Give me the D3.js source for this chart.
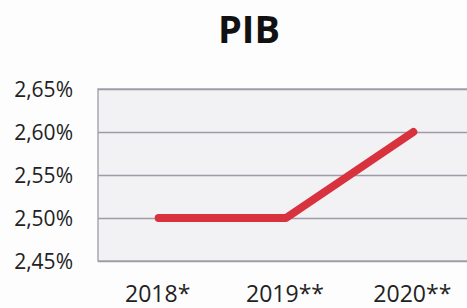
<!DOCTYPE html>
<html><head><meta charset="utf-8">
<script src="https://cdn.jsdelivr.net/npm/d3@7"></script>
<style>body{margin:0;background:#fdfdfd;}svg{display:block;}</style>
</head><body>
<script>
const categories = ["2018*", "2019**", "2020**"];
const values = [2.50, 2.50, 2.60];
const yTicks = [2.45, 2.50, 2.55, 2.60, 2.65];
const title = "PIB";

const W = 467, H = 308;
const svg = d3.select("body").append("svg").attr("width", W).attr("height", H);
svg.append("rect").attr("width", W).attr("height", H).attr("fill", "#fdfdfd");

const m = {left: 98, right: -13, top: 89, bottom: 47};
const x = d3.scaleBand().domain(categories).range([m.left, W - m.right]).padding(0);
const y = d3.scaleLinear().domain([2.45, 2.65]).range([H - m.bottom, m.top]);

svg.append("rect").attr("x", m.left).attr("y", m.top)
  .attr("width", W - m.right - m.left).attr("height", H - m.bottom - m.top)
  .attr("fill", "#f2f1f3").attr("stroke", "#a9a8b0").attr("stroke-width", 1.5);

const fmt = v => v.toFixed(2).replace(".", ",") + "%";
const yAxis = d3.axisLeft(y).tickValues(yTicks).tickSize(-(W - m.right - m.left)).tickFormat(fmt).tickPadding(25);
const gy = svg.append("g").attr("transform", `translate(${m.left},0)`).call(yAxis);
gy.select(".domain").remove();
gy.selectAll(".tick line").attr("stroke", "#9e9ca6").attr("stroke-width", 1.5);
gy.selectAll(".tick text").attr("font-family", "Open Sans").attr("font-size", 21).attr("fill", "#222").attr("dy", "0.36em");

const xAxis = d3.axisBottom(x).tickSize(0).tickPadding(0);
const gx = svg.append("g").attr("transform", `translate(-4,${H - m.bottom})`).call(xAxis);
gx.select(".domain").remove();
gx.selectAll(".tick text").attr("font-family", "Open Sans").attr("font-size", 23).attr("fill", "#222")
  .attr("dy", null).attr("y", 41);

const line = d3.line().x((d, i) => x(categories[i]) + x.bandwidth() / 2 - 3).y(d => y(d));
svg.append("path").datum(values).attr("d", line).attr("fill", "none")
  .attr("stroke", "#d7323e").attr("stroke-width", 8).attr("stroke-linecap", "round").attr("stroke-linejoin", "round");

svg.append("text").attr("x", 249).attr("y", 43).attr("text-anchor", "middle")
  .attr("font-family", "Open Sans").attr("font-weight", "bold").attr("font-size", 38).attr("fill", "#111").text(title);
</script>
</body></html>
